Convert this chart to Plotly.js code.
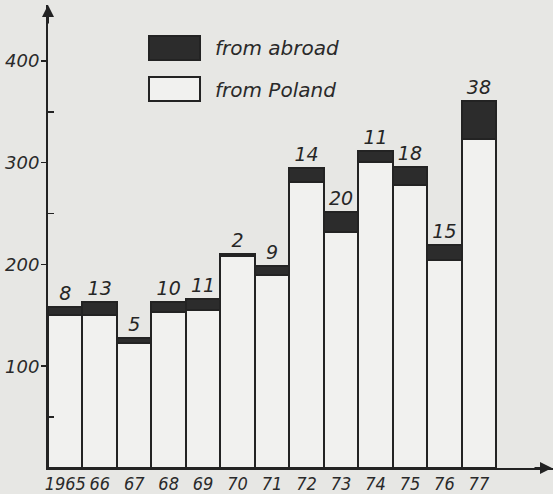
<!DOCTYPE html>
<html>
<head>
<meta charset="utf-8">
<script src="https://cdn.plot.ly/plotly-3.0.1.min.js"></script>
<style>html,body{margin:0;padding:0;background:#e7e7e4;}#chart{width:553px;height:494px;}</style>
</head>
<body>
<div id="chart"></div>
<script>
// Data
const years = ['1965','66','67','68','69','70','71','72','73','74','75','76','77'];
const fromPoland = [150, 150, 123, 153, 155, 208, 190, 281, 232, 301, 278, 204, 323];
const fromAbroad = [8, 13, 5, 10, 11, 2, 9, 14, 20, 11, 18, 15, 38];
const seriesNames = ['from abroad', 'from Poland'];
const yTickVals = [100, 200, 300, 400];

const ink = '#232323';
const bg = '#e7e7e4';
const font = {family: 'DejaVu Sans', color: '#2a2a2a', style: 'italic'};

const traces = [
  {
    type: 'bar', x: years, y: fromPoland, name: seriesNames[1],
    marker: {color: '#f1f1ef', line: {color: ink, width: 2}},
    hoverinfo: 'skip'
  },
  {
    type: 'bar', x: years, y: fromAbroad, name: seriesNames[0],
    marker: {color: '#2c2c2c', line: {color: ink, width: 2}},
    text: fromAbroad.map(String), textposition: 'outside', cliponaxis: false,
    constraintext: 'none',
    textfont: Object.assign({}, font, {size: 19, color: '#262626'}),
    hoverinfo: 'skip'
  }
];

const layout = {
  width: 553, height: 494,
  margin: {l: 48, r: 0, t: 5, b: 26},
  paper_bgcolor: bg, plot_bgcolor: bg,
  barmode: 'stack', bargap: 0,
  showlegend: false,
  xaxis: {
    type: 'category', range: [-0.5, 14.15],
    showline: true, linecolor: ink, linewidth: 2,
    ticks: '', showgrid: false, zeroline: false,
    tickangle: 0, automargin: false, ticklabelstandoff: -2,
    tickfont: {family: 'DejaVu Sans Condensed, DejaVu Sans', color: '#2a2a2a', style: 'italic', size: 18}
  },
  yaxis: {
    range: [0, 455], showline: true, linecolor: ink, linewidth: 2,
    showgrid: false, zeroline: false,
    tickvals: yTickVals, ticktext: yTickVals.map(String),
    ticks: 'outside', ticklen: 5, tickwidth: 1.5, tickcolor: ink,
    ticklabelstandoff: -2,
    tickfont: Object.assign({}, font, {size: 18}),
    minor: {tickvals: [50, 150, 250, 350], ticks: 'inside', ticklen: 6, tickwidth: 1.5, tickcolor: ink}
  },
  shapes: [
    {type: 'rect', xref: 'paper', yref: 'paper', x0: 0.2, x1: 0.301, y0: 0.933, y1: 0.881,
     fillcolor: '#2c2c2c', line: {color: ink, width: 2}},
    {type: 'rect', xref: 'paper', yref: 'paper', x0: 0.2, x1: 0.301, y0: 0.8445, y1: 0.7927,
     fillcolor: '#f1f1ef', line: {color: ink, width: 2}}
  ],
  annotations: [
    {xref: 'paper', yref: 'paper', x: 0.327, y: 0.907, xanchor: 'left', yanchor: 'middle',
     text: seriesNames[0], showarrow: false, font: Object.assign({}, font, {size: 20})},
    {xref: 'paper', yref: 'paper', x: 0.327, y: 0.8164, xanchor: 'left', yanchor: 'middle',
     text: seriesNames[1], showarrow: false, font: Object.assign({}, font, {size: 20})},
    {xref: 'paper', yref: 'paper', x: 0, y: 1.0, ax: 0, ay: 20, text: '', showarrow: true,
     arrowhead: 2, arrowsize: 1.2, arrowwidth: 2, arrowcolor: ink},
    {xref: 'paper', yref: 'paper', x: 1.0, y: 0, ax: -20, ay: 0, text: '', showarrow: true,
     arrowhead: 2, arrowsize: 1.2, arrowwidth: 2, arrowcolor: ink}
  ]
};

Plotly.newPlot('chart', traces, layout, {staticPlot: true, displayModeBar: false});
</script>
</body>
</html>
